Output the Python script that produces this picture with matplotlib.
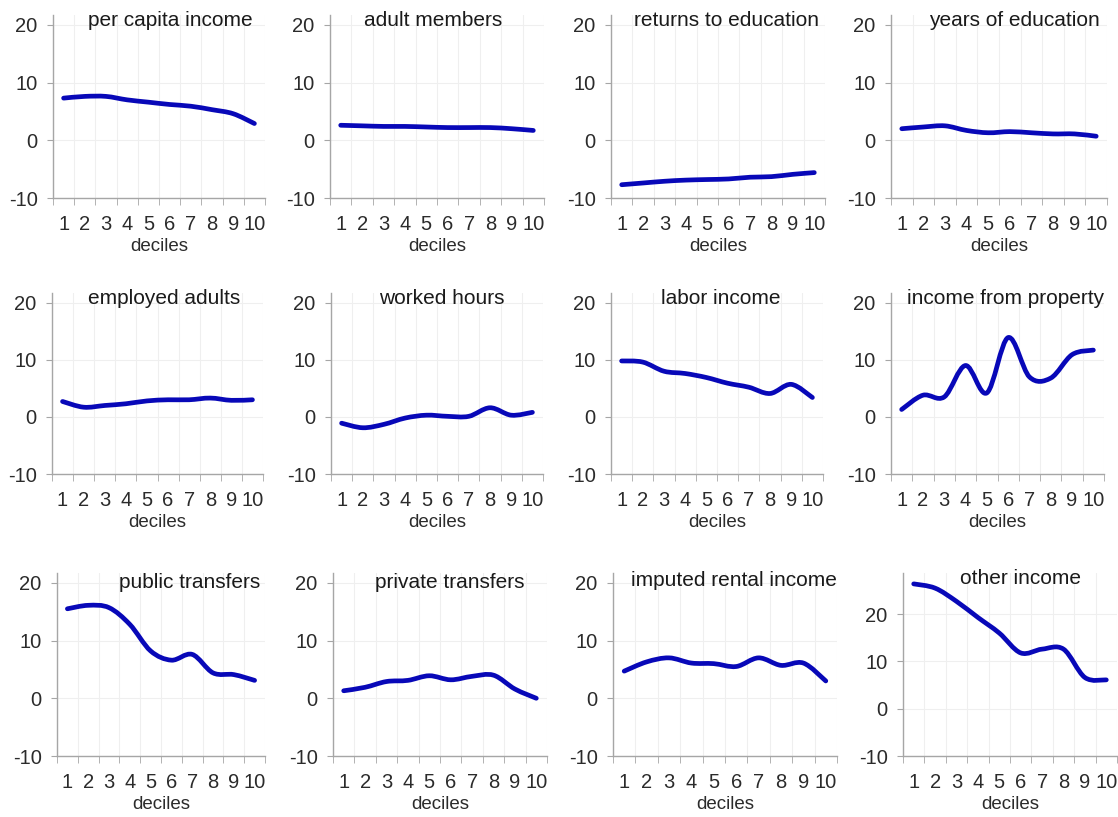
import numpy as np
import matplotlib.pyplot as plt
from matplotlib.path import Path
from matplotlib.patches import PathPatch

plt.rcParams['font.family'] = ['Liberation Sans', 'DejaVu Sans']
plt.rcParams['axes.unicode_minus'] = False

deciles = list(range(1, 11))

per_capita_income = [7.3, 7.6, 7.6, 7.0, 6.6, 6.2, 5.9, 5.3, 4.6, 2.9]
adult_members = [2.6, 2.5, 2.4, 2.4, 2.3, 2.2, 2.2, 2.2, 2.0, 1.7]
returns_to_education = [-7.7, -7.4, -7.1, -6.9, -6.8, -6.7, -6.4, -6.3, -5.9, -5.6]
years_of_education = [2.0, 2.3, 2.5, 1.7, 1.3, 1.5, 1.3, 1.1, 1.1, 0.7]
employed_adults = [2.7, 1.7, 2.0, 2.3, 2.8, 3.0, 3.0, 3.3, 2.9, 3.0]
worked_hours = [-1.1, -1.9, -1.3, -0.2, 0.3, 0.1, 0.1, 1.6, 0.3, 0.8]
labor_income = [9.8, 9.6, 8.0, 7.6, 6.9, 5.9, 5.2, 4.1, 5.7, 3.4]
income_from_property = [1.3, 3.8, 3.5, 9.0, 4.2, 13.9, 7.0, 6.8, 10.9, 11.7]
public_transfers = [15.5, 16.1, 15.7, 12.8, 8.2, 6.6, 7.6, 4.4, 4.1, 3.1]
private_transfers = [1.3, 1.9, 2.9, 3.1, 3.9, 3.2, 3.8, 4.0, 1.6, 0.0]
imputed_rental_income = [4.7, 6.3, 7.0, 6.1, 6.0, 5.5, 7.0, 5.7, 6.1, 3.0]
other_income = [26.4, 25.5, 22.7, 19.3, 16.0, 11.8, 12.6, 12.6, 6.6, 6.1]

titles = ['per capita income', 'adult members', 'returns to education', 'years of education',
          'employed adults', 'worked hours', 'labor income', 'income from property',
          'public transfers', 'private transfers', 'imputed rental income', 'other income']
series = [per_capita_income, adult_members, returns_to_education, years_of_education,
          employed_adults, worked_hours, labor_income, income_from_property,
          public_transfers, private_transfers, imputed_rental_income, other_income]
ytops = [21.7] * 11 + [28.7]

W, H = 1118, 817
# panel boxes in pixels: left, right, top, bottom
rows = [(15, 198), (293, 474), (573, 756)]
lefts = [[53, 330, 611, 891], [52, 331, 611, 891], [57, 333, 613, 903]]
rights = [[265, 544, 825, 1107], [263, 543, 823, 1104], [265, 547, 837, 1117]]
# title centres in pixels
title_pos = [(170, 21), (433, 21), (727, 21), (1014, 21),
             (164, 298), (442, 298), (721, 298), (1006, 298),
             (190, 583), (450, 583), (734, 581), (1021, 579)]

LINE = '#0808b8'
AXC = '#a6a6a6'
GRID = '#efefef'
TXT = '#2b2b2b'


def smooth_path(x, y):
    # Catmull-Rom through the points, as Bezier segments
    pts = np.column_stack([x, y]).astype(float)
    p = np.vstack([pts[0], pts, pts[-1]])
    verts = [pts[0]]
    codes = [Path.MOVETO]
    for i in range(len(pts) - 1):
        p0, p1, p2, p3 = p[i], p[i + 1], p[i + 2], p[i + 3]
        verts += [p1 + (p2 - p0) / 6, p2 - (p3 - p1) / 6, p2]
        codes += [Path.CURVE4] * 3
    return Path(verts, codes)


fig = plt.figure(figsize=(W / 100, H / 100), dpi=100)

for k, (title, vals) in enumerate(zip(titles, series)):
    r, c = divmod(k, 4)
    top, bot = rows[r]
    l, rr = lefts[r][c], rights[r][c]
    ax = fig.add_axes([l / W, 1 - bot / H, (rr - l) / W, (bot - top) / H])
    ax.set_xlim(0.5, 10.5)
    ax.set_ylim(-10, ytops[k])
    ax.add_patch(PathPatch(smooth_path(deciles, vals), fill=False, edgecolor=LINE,
                           lw=3.4, capstyle='round', joinstyle='round', zorder=3))

    ax.set_yticks([-10, 0, 10, 20])
    ax.set_xticks(deciles)
    ax.set_xticks(np.arange(0.5, 11, 1), minor=True)
    ax.tick_params(axis='x', which='major', length=0, labelsize=14.5, pad=12, colors=TXT)
    ax.tick_params(axis='x', which='minor', length=5, color=AXC)
    ax.tick_params(axis='y', length=4, color=AXC, labelsize=14.5, pad=7, labelcolor=TXT)
    ax.grid(axis='y', which='major', color=GRID, lw=0.8)
    ax.grid(axis='x', which='minor', color=GRID, lw=0.8)
    ax.set_axisbelow(True)
    for s in ['top', 'right']:
        ax.spines[s].set_visible(False)
    for s in ['left', 'bottom']:
        ax.spines[s].set_color(AXC)
        ax.spines[s].set_linewidth(1.0)
    ax.set_xlabel('deciles', fontsize=13.5, color=TXT, labelpad=3)

    tx, ty = title_pos[k]
    fig.text(tx / W, 1 - ty / H, title, ha='center', va='center', fontsize=15, color='#1a1a1a')

fig.savefig('out.png', dpi=100)
